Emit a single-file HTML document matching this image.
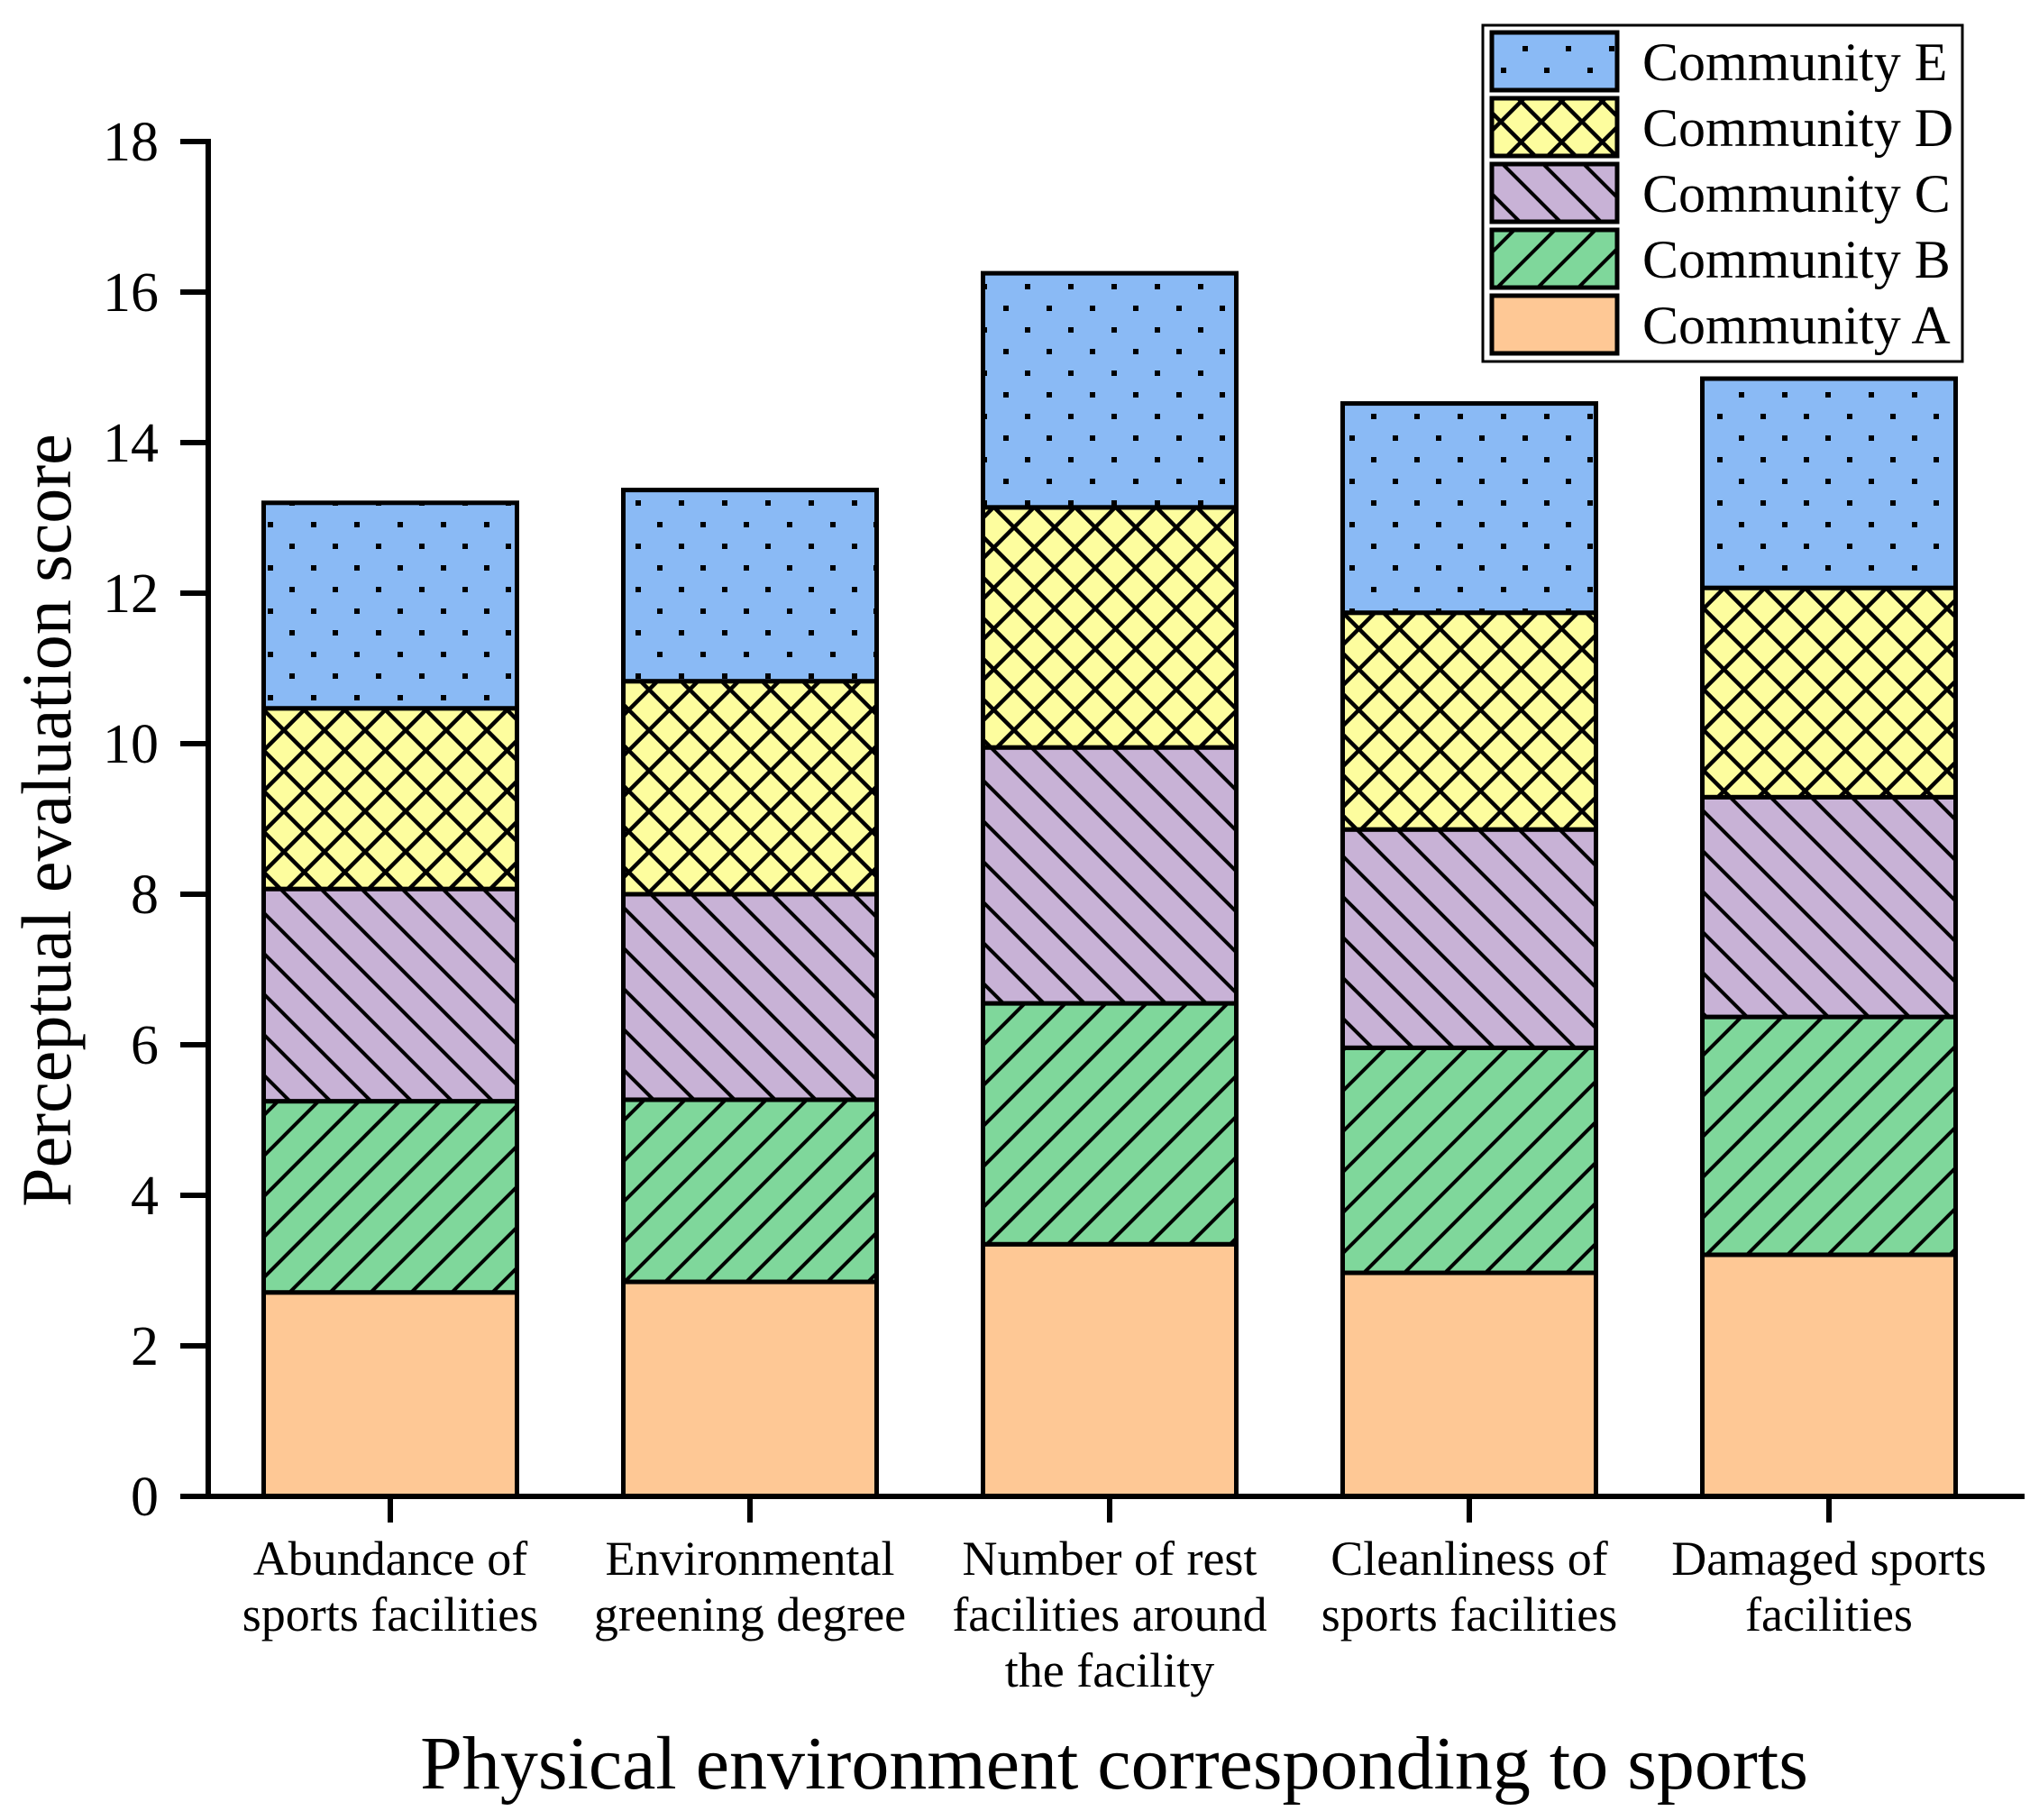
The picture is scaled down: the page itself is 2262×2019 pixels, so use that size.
<!DOCTYPE html>
<html><head><meta charset="utf-8"><style>
html,body{margin:0;padding:0;background:#fff}
svg{display:block;font-family:"Liberation Serif",serif}
</style></head><body>
<svg id="chart" width="2262" height="2019" viewBox="0 0 2262 2019" xmlns="http://www.w3.org/2000/svg">
<defs>
<pattern id="pE" patternUnits="userSpaceOnUse" width="48" height="48" x="0" y="0">
<rect width="48" height="48" fill="#8abaf5"/>
<rect x="9" y="3" width="6" height="6" fill="#000"/><rect x="33" y="27" width="6" height="6" fill="#000"/>
</pattern>
<pattern id="pD" patternUnits="userSpaceOnUse" width="45" height="45">
<rect width="45" height="45" fill="#fdfd9e"/>
<path d="M-5,-5 L50,50 M-5,40 L5,50 M40,-5 L50,5 M50,-5 L-5,50 M-5,5 L5,-5 M40,50 L50,40" stroke="#000" stroke-width="4.5"/>
</pattern>
<pattern id="pC" patternUnits="userSpaceOnUse" width="45" height="45">
<rect width="45" height="45" fill="#c8b2d6"/>
<path d="M-5,-5 L50,50 M-5,40 L5,50 M40,-5 L50,5" stroke="#000" stroke-width="4"/>
</pattern>
<pattern id="pB" patternUnits="userSpaceOnUse" width="45" height="45">
<rect width="45" height="45" fill="#7fd79b"/>
<path d="M50,-5 L-5,50 M-5,5 L5,-5 M40,50 L50,40" stroke="#000" stroke-width="4"/>
</pattern>
</defs>
<g id="bars"></g>
<g id="axes"></g>
<g id="legend"></g>
<text x="1236" y="1984" font-size="84" text-anchor="middle">Physical environment corresponding to sports</text>
<text transform="translate(78,910) rotate(-90)" font-size="78" text-anchor="middle">Perceptual evaluation score</text>
</svg>
<script>
const categories = [["Abundance of","sports facilities"],["Environmental","greening degree"],["Number of rest","facilities around","the facility"],["Cleanliness of","sports facilities"],["Damaged sports","facilities"]];
const seriesNames = ["Community A","Community B","Community C","Community D","Community E"];
const seriesA = [2.71, 2.85, 3.35, 2.97, 3.21];
const seriesB = [2.54, 2.42, 3.20, 2.99, 3.16];
const seriesC = [2.82, 2.73, 3.40, 2.90, 2.92];
const seriesD = [2.40, 2.83, 3.19, 2.88, 2.78];
const seriesE = [2.73, 2.54, 3.11, 2.78, 2.78];
const yTicks = [0,2,4,6,8,10,12,14,16,18];

const NS="http://www.w3.org/2000/svg";
const series=[seriesA,seriesB,seriesC,seriesD,seriesE];
const fills=["#fec895","url(#pB)","url(#pC)","url(#pD)","url(#pE)"];
const y0=1660, y18=157, yMax=18;
function yScale(v){return y0-(y0-y18)*v/yMax;}
function xCenter(i){return 433+399*i;}
const barW=281;
function mk(tag,attrs,parent){const e=document.createElementNS(NS,tag);for(const k in attrs)e.setAttribute(k,attrs[k]);parent.appendChild(e);return e;}
const gb=document.getElementById('bars');
categories.forEach((c,i)=>{
  let cum=0;
  series.forEach((s,k)=>{
    const yt=yScale(cum+s[i]), yb=yScale(cum);
    const r=mk('rect',{x:xCenter(i)-barW/2,y:yt,width:barW,height:yb-yt,fill:fills[k],stroke:'#000','stroke-width':5},gb);
    
    
    cum+=s[i];
  });
});
const ga=document.getElementById('axes');
const yl=mk('line',{x1:231,y1:154,x2:231,y2:1663,stroke:'#000','stroke-width':6},ga);


const xl=mk('line',{x1:200,y1:1660,x2:2246,y2:1660,stroke:'#000','stroke-width':6},ga);


yTicks.forEach(t=>{
  const y=yScale(t);
  const tk=mk('line',{x1:200,y1:y,x2:231,y2:y,stroke:'#000','stroke-width':6},ga);
  
  
  const tx=mk('text',{x:176,y:y+21,'font-size':62,'text-anchor':'end'},ga);
  tx.textContent=t;
  
  
});
categories.forEach((c,i)=>{
  const x=xCenter(i);
  const tk=mk('line',{x1:x,y1:1660,x2:x,y2:1689,stroke:'#000','stroke-width':6},ga);
  
  
  c.forEach((ln,j)=>{
    const tx=mk('text',{x:x,y:1747+62*j,'font-size':54,'text-anchor':'middle'},ga);
    tx.textContent=ln;
    
    
  });
});
const gl=document.getElementById('legend');
const lb=mk('rect',{x:1645,y:28,width:532,height:373,fill:'#fff',stroke:'#000','stroke-width':3},gl);


for(let r=0;r<5;r++){
  const k=4-r;
  const yt=36+73*r;
  const sw=mk('rect',{x:1655,y:yt,width:139,height:64,fill:fills[k],stroke:'#000','stroke-width':5},gl);
  
  
  const tx=mk('text',{x:1822,y:yt+53,'font-size':60},gl);
  tx.textContent=seriesNames[k];
  
  
}
</script>
</body></html>
